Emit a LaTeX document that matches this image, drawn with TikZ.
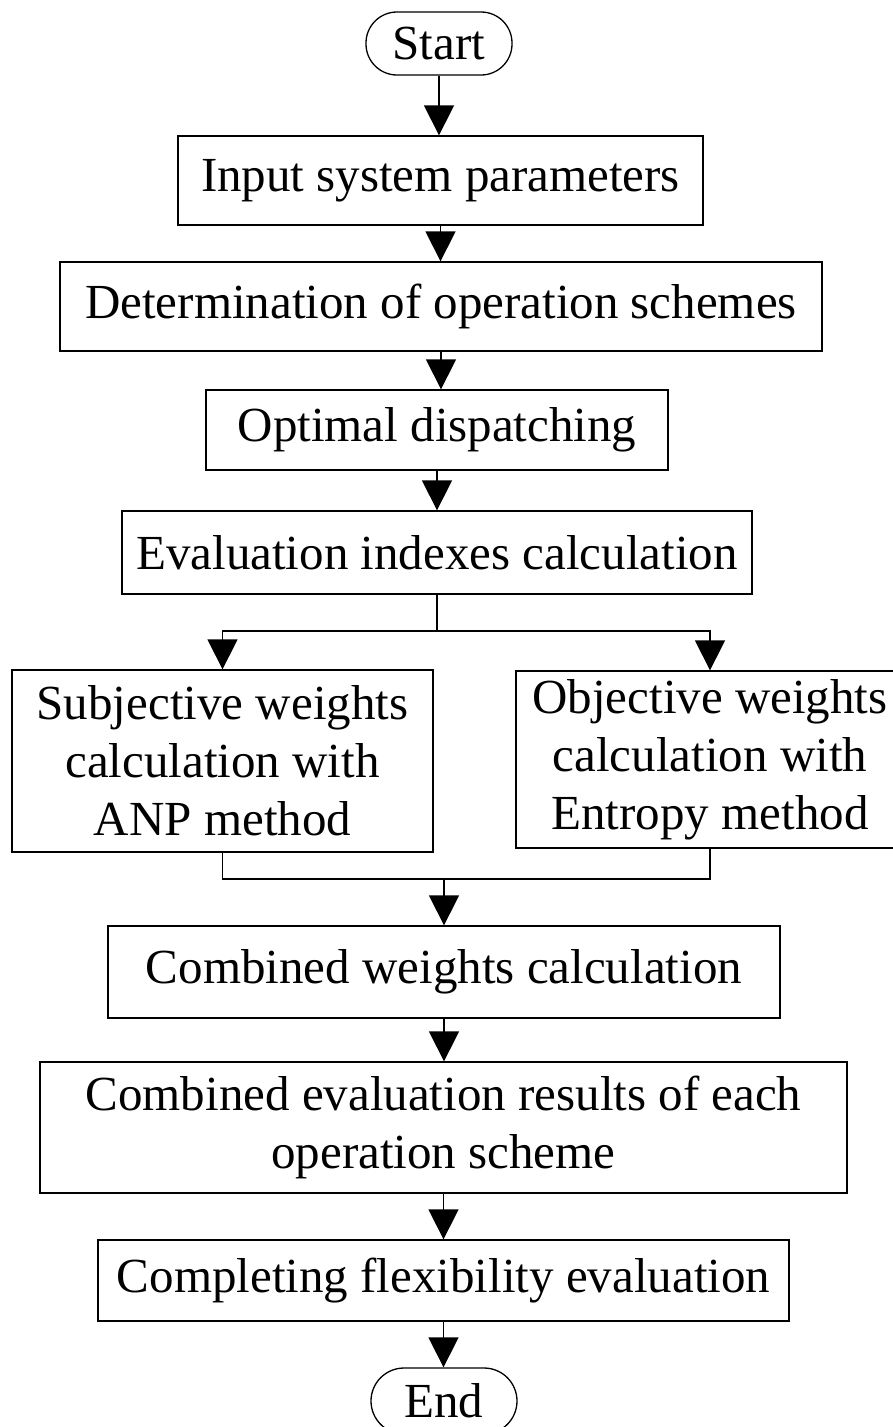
\documentclass[tikz,border=0pt]{standalone}
\usepackage{fontspec}
\setmainfont{Liberation Serif}
\usetikzlibrary{arrows.meta,calc}
\begin{document}
\begin{tikzpicture}[x=1pt,y=-1pt,
  box/.style={draw, line width=1.3pt, inner sep=0pt, align=center, font=\fontsize{49}{58}\selectfont},
  term/.style={box, rounded corners=31pt},
  arr/.style={line width=1.3pt, -{Triangle[width=30pt,length=30pt]}},
  ln/.style={line width=1.3pt}]
\useasboundingbox (0,0) rectangle (892,1427);
\node[term, minimum width=146pt, minimum height=63pt] (start) at (439,43.5) {Start};
\node[box, minimum width=525pt, minimum height=89pt] (b1) at (440.5,180.5) {Input system parameters};
\node[box, minimum width=762pt, minimum height=89pt] (b2) at (441,306.5) {Determination of operation schemes};
\node[box, minimum width=462pt, minimum height=80pt] (b3) at (437,430) {Optimal dispatching};
\node[box, minimum width=630pt, minimum height=83pt] (b4) at (437,552.5) {Evaluation indexes calculation};
\node[box, minimum width=421pt, minimum height=182pt] (b5) at (222.5,761) {Subjective weights\\calculation with\\ANP method};
\node[box, minimum width=388pt, minimum height=177pt] (b6) at (710,759.5) {Objective weights\\calculation with\\Entropy method};
\node[box, minimum width=672pt, minimum height=92pt] (b7) at (444,972) {Combined weights calculation};
\node[box, minimum width=807pt, minimum height=131pt] (b8) at (443.5,1127.5) {Combined evaluation results of each\\operation scheme};
\node[box, minimum width=691pt, minimum height=81pt] (b9) at (443.5,1280.5) {Completing flexibility evaluation};
\node[term, minimum width=146pt, minimum height=66pt, rounded corners=33pt] (end) at (444,1401) {End};
\coordinate (s) at (438,631);
\coordinate (m) at (444,879);
\draw[arr] (start.south) -- (start.south |- b1.north);
\draw[arr] (b1.south) -- (b1.south |- b2.north);
\draw[arr] (b2.south) -- (b2.south |- b3.north);
\draw[arr] (b3.south) -- (b3.south |- b4.north);
\draw[ln] (b4.south) -- (b4.south |- s);
\draw[arr] (b4.south |- s) -| (b5.north);
\draw[arr] (b4.south |- s) -| (b6.north);
\draw[ln] (b5.south) |- (m) -| (b6.south);
\draw[arr] (m) -- (b7.north |- m) -- (b7.north);
\draw[arr] (b7.south) -- (b7.south |- b8.north);
\draw[arr] (b8.south) -- (b8.south |- b9.north);
\draw[arr] (b9.south) -- (b9.south |- end.north);
\end{tikzpicture}
\end{document}
